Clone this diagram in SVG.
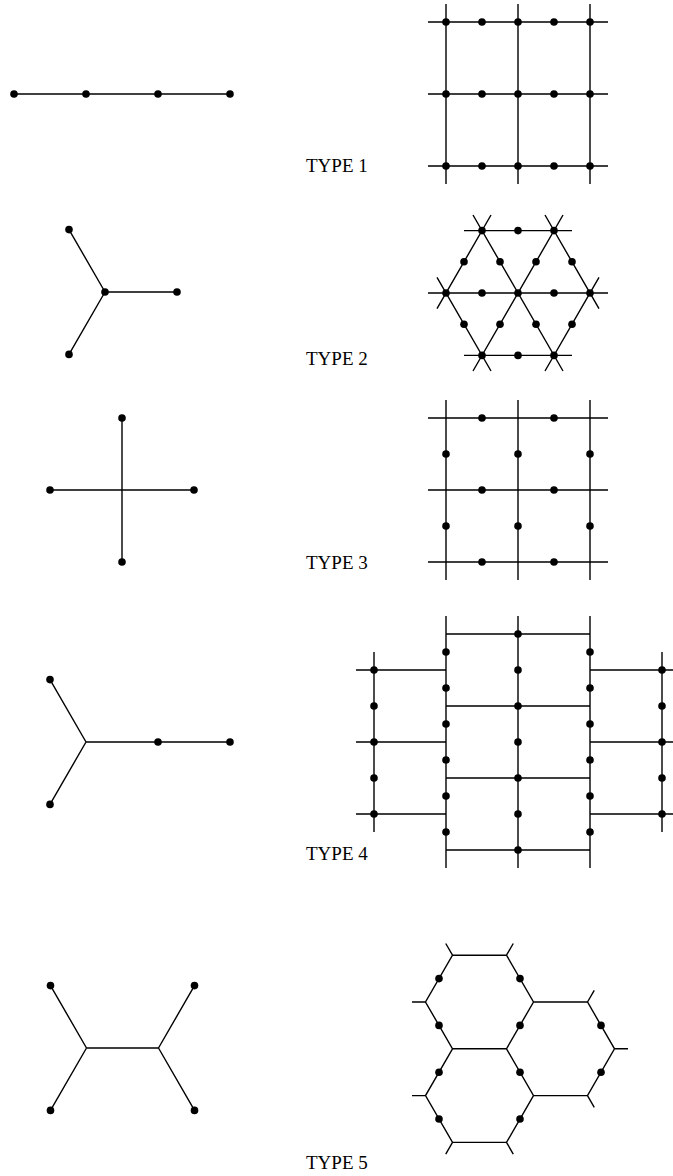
<svg xmlns="http://www.w3.org/2000/svg" width="673" height="1176" viewBox="0 0 673 1176">
<style>
.e{stroke:#000;stroke-width:1.4;fill:none;stroke-linecap:butt}
.d{fill:#000}
.t{font-family:"Liberation Serif","Times New Roman",serif;font-size:19px;fill:#000}
</style>
<defs><circle id="dot" r="3.8" class="d"/></defs>
<rect width="673" height="1176" fill="#fff"/>

<g id="connectors">
<!-- Type 1 left -->
<path class="e" d="M14 94H230"/>
<!-- Type 1 grid -->
<path class="e" d="M428 22H608M428 94H608M428 166H608M446 4V184M518 4V184M590 4V184"/>
<!-- Type 2 left -->
<path class="e" d="M105 292H177M105 292L69 229.6M105 292L69 354.4"/>
<!-- Type 2 lattice -->
<path class="e" d="M464 230.6H572M428 293H608M464 355.4H572
M473 371L563 215M437 308.6L491 215M545 371L599 277.4
M563 371L473 215M599 308.6L545 215M491 371L437 277.4"/>
<!-- Type 3 left -->
<path class="e" d="M50 490H194M122 418V562"/>
<!-- Type 3 grid -->
<path class="e" d="M428 418H608M428 490H608M428 562H608M446 400V580M518 400V580M590 400V580"/>
<!-- Type 4 left -->
<path class="e" d="M86 742H230M86 742L50 679.6M86 742L50 804.4"/>
<!-- Type 4 lattice -->
<path class="e" d="M446 634H590M446 706H590M446 778H590M446 850H590
M446 616V868M518 616V868M590 616V868
M356 670H446M356 742H446M356 814H446M374 652V832
M590 670H680M590 742H680M590 814H680M662 652V832"/>
<!-- Type 5 left -->
<path class="e" d="M86.5 1048H158.5M86.5 1048L50.5 985.6M86.5 1048L50.5 1110.4M158.5 1048L194.5 985.6M158.5 1048L194.5 1110.4"/>
<!-- Type 5 honeycomb -->
<path class="e" d="M452.5 955.2H506.5L533.5 1002L506.5 1048.8H452.5L425.5 1002Z
M533.5 1002H587.5L614.5 1048.8L587.5 1095.6H533.5L506.5 1048.8
M452.5 1048.8L425.5 1095.6L452.5 1142.4H506.5L533.5 1095.6
M452.5 955.2L445.75 943.5M506.5 955.2L513.25 943.5M425.5 1002H412M587.5 1002L594.25 990.3M614.5 1048.8H628M587.5 1095.6L594.25 1107.3M425.5 1095.6H412M452.5 1142.4L445.75 1154.1M506.5 1142.4L513.25 1154.1"/>
</g>

<g id="type1-tree">
<use href="#dot" x="14" y="94"/><use href="#dot" x="86" y="94"/><use href="#dot" x="158" y="94"/><use href="#dot" x="230" y="94"/>
</g>
<g id="type1-lattice">
<use href="#dot" x="446" y="22"/><use href="#dot" x="482" y="22"/><use href="#dot" x="518" y="22"/><use href="#dot" x="554" y="22"/><use href="#dot" x="590" y="22"/>
<use href="#dot" x="446" y="94"/><use href="#dot" x="482" y="94"/><use href="#dot" x="518" y="94"/><use href="#dot" x="554" y="94"/><use href="#dot" x="590" y="94"/>
<use href="#dot" x="446" y="166"/><use href="#dot" x="482" y="166"/><use href="#dot" x="518" y="166"/><use href="#dot" x="554" y="166"/><use href="#dot" x="590" y="166"/>
</g>
<text id="label1" class="t" x="306" y="172">TYPE 1</text>

<g id="type2-tree">
<use href="#dot" x="105" y="292"/><use href="#dot" x="177" y="292"/><use href="#dot" x="69" y="229.6"/><use href="#dot" x="69" y="354.4"/>
</g>
<g id="type2-lattice">
<use href="#dot" x="482" y="230.6"/><use href="#dot" x="518" y="230.6"/><use href="#dot" x="554" y="230.6"/>
<use href="#dot" x="446" y="293"/><use href="#dot" x="482" y="293"/><use href="#dot" x="518" y="293"/><use href="#dot" x="554" y="293"/><use href="#dot" x="590" y="293"/>
<use href="#dot" x="482" y="355.4"/><use href="#dot" x="518" y="355.4"/><use href="#dot" x="554" y="355.4"/>
<use href="#dot" x="464" y="261.8"/><use href="#dot" x="500" y="261.8"/><use href="#dot" x="536" y="261.8"/><use href="#dot" x="572" y="261.8"/>
<use href="#dot" x="464" y="324.2"/><use href="#dot" x="500" y="324.2"/><use href="#dot" x="536" y="324.2"/><use href="#dot" x="572" y="324.2"/>
</g>
<text id="label2" class="t" x="306" y="365">TYPE 2</text>

<g id="type3-tree">
<use href="#dot" x="122" y="418"/><use href="#dot" x="122" y="562"/><use href="#dot" x="50" y="490"/><use href="#dot" x="194" y="490"/>
</g>
<g id="type3-lattice">
<use href="#dot" x="482" y="418"/><use href="#dot" x="554" y="418"/>
<use href="#dot" x="482" y="490"/><use href="#dot" x="554" y="490"/>
<use href="#dot" x="482" y="562"/><use href="#dot" x="554" y="562"/>
<use href="#dot" x="446" y="454"/><use href="#dot" x="518" y="454"/><use href="#dot" x="590" y="454"/>
<use href="#dot" x="446" y="526"/><use href="#dot" x="518" y="526"/><use href="#dot" x="590" y="526"/>
</g>
<text id="label3" class="t" x="306" y="569">TYPE 3</text>

<g id="type4-tree">
<use href="#dot" x="50" y="679.6"/><use href="#dot" x="50" y="804.4"/><use href="#dot" x="158" y="742"/><use href="#dot" x="230" y="742"/>
</g>
<g id="type4-lattice">
<use href="#dot" x="374" y="670"/><use href="#dot" x="374" y="706"/><use href="#dot" x="374" y="742"/><use href="#dot" x="374" y="778"/><use href="#dot" x="374" y="814"/>
<use href="#dot" x="662" y="670"/><use href="#dot" x="662" y="706"/><use href="#dot" x="662" y="742"/><use href="#dot" x="662" y="778"/><use href="#dot" x="662" y="814"/>
<use href="#dot" x="446" y="652"/><use href="#dot" x="446" y="688"/><use href="#dot" x="446" y="724"/><use href="#dot" x="446" y="760"/><use href="#dot" x="446" y="796"/><use href="#dot" x="446" y="832"/>
<use href="#dot" x="590" y="652"/><use href="#dot" x="590" y="688"/><use href="#dot" x="590" y="724"/><use href="#dot" x="590" y="760"/><use href="#dot" x="590" y="796"/><use href="#dot" x="590" y="832"/>
<use href="#dot" x="518" y="634"/><use href="#dot" x="518" y="670"/><use href="#dot" x="518" y="706"/><use href="#dot" x="518" y="742"/><use href="#dot" x="518" y="778"/><use href="#dot" x="518" y="814"/><use href="#dot" x="518" y="850"/>
</g>
<text id="label4" class="t" x="306" y="860">TYPE 4</text>

<g id="type5-tree">
<use href="#dot" x="50.5" y="985.6"/><use href="#dot" x="50.5" y="1110.4"/><use href="#dot" x="194.5" y="985.6"/><use href="#dot" x="194.5" y="1110.4"/>
</g>
<g id="type5-lattice">
<use href="#dot" x="439" y="978.6"/><use href="#dot" x="520" y="978.6"/>
<use href="#dot" x="439" y="1025.4"/><use href="#dot" x="520" y="1025.4"/><use href="#dot" x="601" y="1025.4"/>
<use href="#dot" x="439" y="1072.2"/><use href="#dot" x="520" y="1072.2"/><use href="#dot" x="601" y="1072.2"/>
<use href="#dot" x="439" y="1119"/><use href="#dot" x="520" y="1119"/>
</g>
<text id="label5" class="t" x="306" y="1169">TYPE 5</text>
</svg>
